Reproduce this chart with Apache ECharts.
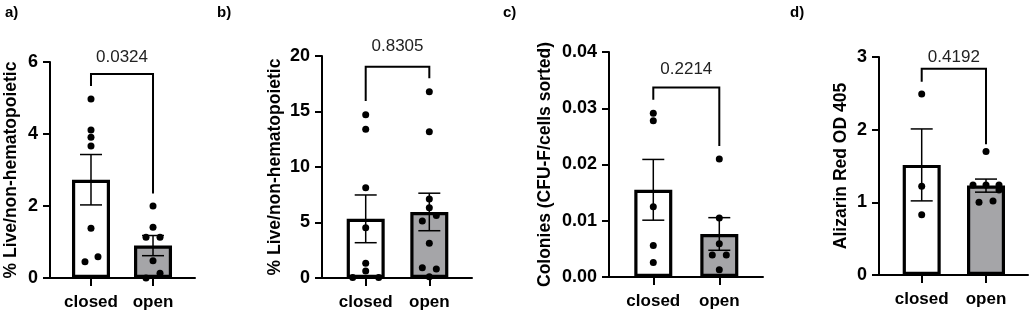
<!DOCTYPE html>
<html>
<head>
<meta charset="utf-8">
<script src="https://cdn.jsdelivr.net/npm/echarts@6/dist/echarts.min.js"></script>
<style>
  html, body { margin: 0; background: #fff; }
  #chart { width: 1031px; height: 312px; }
</style>
</head>
<body>
<div id="chart"></div>
<script>
const groups = ['closed', 'open']
const panelLetters = ['a)', 'b)', 'c)', 'd)']
const yTitles = ['% Live/non-hematopoietic', '% Live/non-hematopoietic', 'Colonies (CFU-F/cells sorted)', 'Alizarin Red OD 405']
const pValues = ['0.0324', '0.8305', '0.2214', '0.4192']

// y axis ticks per panel
const yMax = [6, 20, 0.04, 3]
const yStep = [2, 5, 0.01, 1]

// bar heights (mean) and error (SEM), [closed, open]
const aMean = [2.73, 0.90]
const aSem = [0.70, 0.28]
const bMean = [5.33, 5.95]
const bSem = [2.15, 1.69]
const cMean = [0.0155, 0.00765]
const cSem = [0.0054, 0.0029]
const dMean = [1.515, 1.23]
const dSem = [0.495, 0.09]

// individual points
const aClosed = [4.97, 4.11, 3.91, 3.67, 1.38, 0.59, 0.45]
const aOpen = [2.0, 1.41, 1.13, 1.13, 0.48, 0.13, 0.0]
const bClosed = [14.71, 13.39, 8.14, 4.53, 1.32, 0.63, 0.05, 0.05]
const bOpen = [16.79, 13.18, 7.12, 6.34, 5.62, 5.14, 3.12, 0.93, 0.81, 0.12]
const cClosed = [0.0291, 0.0278, 0.0125, 0.0056, 0.0026]
const cOpen = [0.021, 0.0105, 0.0059, 0.0039, 0.0039, 0.0013]
const dClosed = [2.49, 1.22, 0.83]
const dOpen = [1.70, 1.24, 1.24, 1.24, 1.17, 1.0, 1.02]

// bracket: [top, closed leg end, open leg end]
const aBracket = [5.67, 5.33, 2.35]
const bBracket = [19.04, 15.95, 17.99]
const cBracket = [0.0337, 0.0315, 0.0233]
const dBracket = [2.84, 2.66, 1.80]

// horizontal jitter of the dots, in px (style only)
const aJitter = [[0, 0, 0, 0, 0, 7, -6], [0, 0, -7, 7, 0, 7, -7]]
const bJitter = [[0, 0, 0, 0, 0, 0, -13, 13], [0, 0, 0, 0, 7, -7, 0, -7, 7, 0]]
const cJitter = [[0, 0, 0, 0, 0], [0, 0, 0, -7, 7, 0]]
const dJitter = [[0, 0, 0], [0, -13, 0, 13, 13, -7, 7]]

const means = [aMean, bMean, cMean, dMean]
const sems = [aSem, bSem, cSem, dSem]
const points = [[aClosed, aOpen], [bClosed, bOpen], [cClosed, cOpen], [dClosed, dOpen]]
const brackets = [aBracket, bBracket, cBracket, dBracket]
const jitters = [aJitter, bJitter, cJitter, dJitter]

// layout
const grids = [
  { left: 50, top: 62, width: 145, height: 216 },
  { left: 322, top: 56, width: 150, height: 222 },
  { left: 609, top: 52, width: 154, height: 225 },
  { left: 879, top: 57, width: 149, height: 218 }
]
const xRange = [[-0.661, 1.677], [-0.687, 1.671], [-0.671, 1.662], [-0.664, 1.653]]
const nameGaps = [30, 38, 55, 29]
const letterLeft = [5, 217, 503, 790]
const pGap = [17, 20, 18, 11]
const FONT = '"Liberation Sans", Arial, sans-serif'
const barFill = ['#ffffff', '#a5a5a8']

const chart = echarts.init(document.getElementById('chart'), null, { renderer: 'canvas' })

const xAxis = []
const yAxis = []
const series = []

grids.forEach((g, i) => {
  xAxis.push({
    gridIndex: i,
    type: 'value',
    min: xRange[i][0],
    max: xRange[i][1],
    splitLine: { show: false },
    axisLine: { show: true, onZero: false, lineStyle: { color: '#000', width: 2 } },
    axisTick: { show: true, customValues: [0, 1], length: 8, lineStyle: { color: '#000', width: 2 } },
    axisLabel: {
      customValues: [0, 1],
      formatter: (v) => groups[Math.round(v)],
      color: '#000',
      fontFamily: FONT,
      fontWeight: 'bold',
      fontSize: 17,
      margin: 16
    }
  })
  yAxis.push({
    gridIndex: i,
    type: 'value',
    min: 0,
    max: yMax[i],
    interval: yStep[i],
    name: yTitles[i],
    nameLocation: 'middle',
    nameGap: nameGaps[i],
    nameTextStyle: { color: '#000', fontFamily: FONT, fontWeight: 'bold', fontSize: 17.5 },
    splitLine: { show: false },
    axisLine: { show: true, onZero: false, lineStyle: { color: '#000', width: 2 } },
    axisTick: { show: true, length: 7, lineStyle: { color: '#000', width: 2 } },
    axisLabel: {
      color: '#000',
      fontFamily: FONT,
      fontWeight: 'bold',
      fontSize: 18,
      margin: 12,
      formatter: (v) => (i === 2 ? v.toFixed(2) : String(v))
    }
  })

  series.push({
    type: 'bar',
    xAxisIndex: i,
    yAxisIndex: i,
    barWidth: 38,
    z: 2,
    data: means[i].map((m, k) => ({
      value: [k, m],
      itemStyle: { color: barFill[k], borderColor: '#000', borderWidth: 3.2 }
    }))
  })

  series.push({
    type: 'custom',
    xAxisIndex: i,
    yAxisIndex: i,
    z: 3,
    encode: { x: 0, y: [1, 2] },
    data: means[i].map((m, k) => [k, m + sems[i][k], m - sems[i][k]]),
    renderItem: (params, api) => {
      const hi = api.coord([api.value(0), api.value(1)])
      const lo = api.coord([api.value(0), api.value(2)])
      const st = { stroke: '#000', lineWidth: 1.5 }
      return {
        type: 'group',
        children: [
          { type: 'line', shape: { x1: hi[0], y1: hi[1], x2: lo[0], y2: lo[1] }, style: st },
          { type: 'line', shape: { x1: hi[0] - 11, y1: hi[1], x2: hi[0] + 11, y2: hi[1] }, style: st },
          { type: 'line', shape: { x1: lo[0] - 11, y1: lo[1], x2: lo[0] + 11, y2: lo[1] }, style: st }
        ]
      }
    }
  })

  points[i].forEach((vals, k) => {
    series.push({
      type: 'scatter',
      xAxisIndex: i,
      yAxisIndex: i,
      z: 4,
      symbolSize: 7,
      itemStyle: { color: '#000', opacity: 1 },
      data: vals.map((v, j) => ({ value: [k, v], symbolOffset: [jitters[i][k][j], 0] }))
    })
  })

  const br = brackets[i]
  series.push({
    type: 'custom',
    xAxisIndex: i,
    yAxisIndex: i,
    z: 5,
    encode: { x: [0, 1], y: [2, 3, 4] },
    data: [[0, 1, br[0], br[1], br[2]]],
    renderItem: (params, api) => {
      const tl = api.coord([api.value(0), api.value(2)])
      const tr = api.coord([api.value(1), api.value(2)])
      const bl = api.coord([api.value(0), api.value(3)])
      const brr = api.coord([api.value(1), api.value(4)])
      return {
        type: 'group',
        children: [
          {
            type: 'polyline',
            shape: { points: [bl, tl, tr, brr] },
            style: { stroke: '#000', lineWidth: 2, fill: null }
          },
          {
            type: 'text',
            style: {
              text: pValues[i],
              x: (tl[0] + tr[0]) / 2,
              y: tl[1] - pGap[i],
              align: 'center',
              verticalAlign: 'middle',
              fill: '#222',
              font: '17px ' + FONT
            }
          }
        ]
      }
    }
  })
})

chart.setOption({
  animation: false,
  backgroundColor: '#fff',
  title: panelLetters.map((t, i) => ({
    text: t,
    left: letterLeft[i],
    top: 5,
    padding: 0,
    textStyle: { color: '#000', fontFamily: FONT, fontWeight: 'bold', fontSize: 15 }
  })),
  grid: grids,
  xAxis: xAxis,
  yAxis: yAxis,
  series: series
})
</script>
</body>
</html>
